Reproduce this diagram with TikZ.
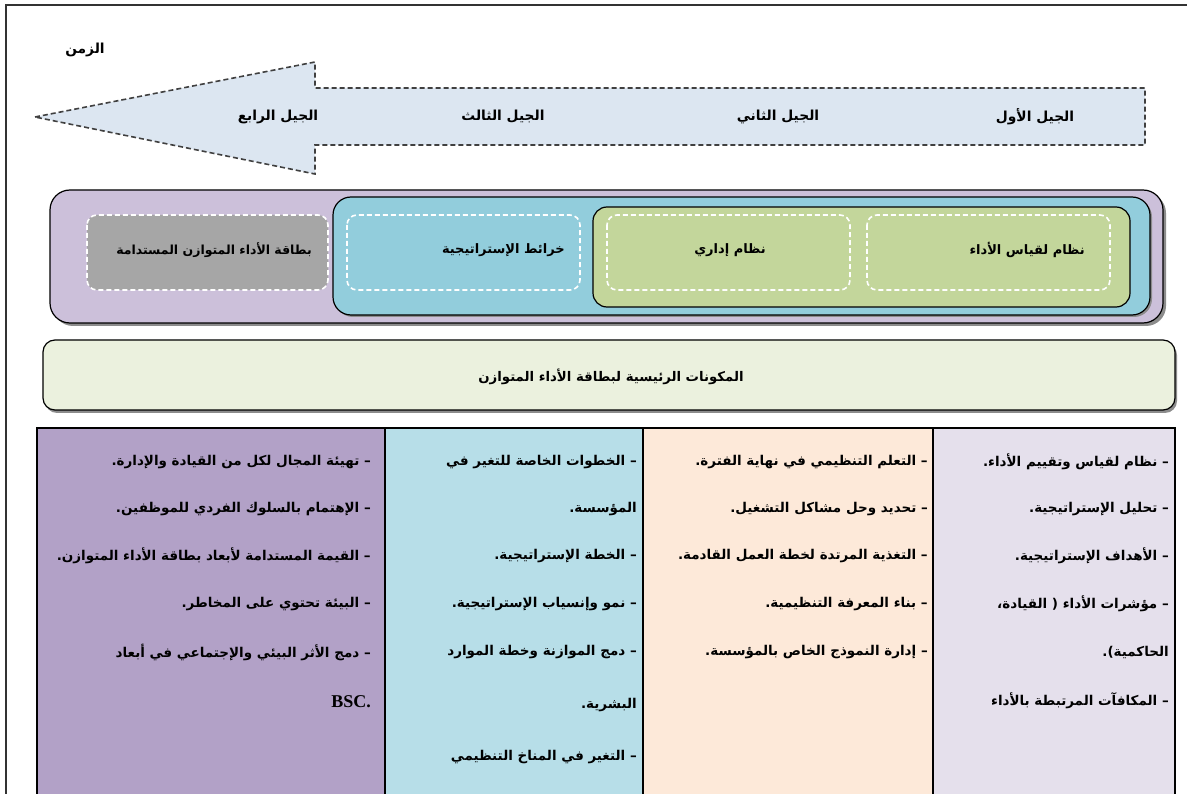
\documentclass[tikz,border=0pt]{standalone}
\usepackage{fontspec}
\setmainfont{Liberation Serif}
\newfontfamily\ar[Script=Arabic]{DejaVu Sans}
\TeXXeTstate=1
\newcommand{\AR}[1]{{\ar\bfseries\beginR #1\endR}}
\definecolor{arrowfill}{RGB}{220,230,241}
\definecolor{lav}{RGB}{204,192,218}
\definecolor{bluebox}{RGB}{146,205,220}
\definecolor{greenbox}{RGB}{195,214,155}
\definecolor{graybox}{RGB}{166,166,166}
\definecolor{compbar}{RGB}{235,241,222}
\definecolor{colA}{RGB}{229,224,236}
\definecolor{colB}{RGB}{253,233,217}
\definecolor{colC}{RGB}{183,222,232}
\definecolor{colD}{RGB}{178,161,199}
\tikzset{
  gen/.style={font=\fontsize{13.8}{16}\selectfont, inner sep=1pt},
  shadowbox/.style={draw=black, line width=1.2pt, rounded corners=#1},
  whitedash/.style={draw=white, line width=1.6pt, dash pattern=on 5pt off 3pt, rounded corners=10pt},
  boxlabel/.style={font=\fontsize{13}{15}\selectfont, inner sep=1pt},
  item/.style={font=\fontsize{13.5}{16}\selectfont, inner sep=1pt, anchor=east},
}
\begin{document}
\begin{tikzpicture}[x=1pt,y=-1pt]
\useasboundingbox (0,0) rectangle (1187,794);
\fill[white] (0,0) rectangle (1187,794);
% outer frame
\draw[line width=1.6pt, black!80] (6,794) -- (6,5) -- (1187,5);
% time label
\node[gen] (time) at (85,50) {\AR{الزمن}};
% big arrow
\draw[fill=arrowfill, draw=black!75, line width=1.6pt, dash pattern=on 5pt off 3pt]
  (35,117) -- (315,62) -- (315,88) -- (1145,88) -- (1145,145) -- (315,145) -- (315,174) -- cycle;
\node[gen] (g4) at (278,117) {\AR{الجيل الرابع}};
\node[gen] (g3) at (503,117) {\AR{الجيل الثالث}};
\node[gen] (g2) at (778,117) {\AR{الجيل الثاني}};
\node[gen] (g1) at (1035,117) {\AR{الجيل الأول}};
% nested boxes
\fill[black!45, rounded corners=20pt] (53,193) rectangle (1166,326);
\draw[shadowbox=20pt, fill=lav] (50,190) rectangle (1163,323);
\fill[black!45, rounded corners=18pt] (335,199) rectangle (1152,317);
\draw[shadowbox=18pt, fill=bluebox] (333,197) rectangle (1150,315);
\draw[shadowbox=14pt, fill=greenbox] (593,207) rectangle (1130,307);
\draw[whitedash, fill=graybox] (87,215) rectangle (328,290);
\draw[whitedash] (347,215) rectangle (580,290);
\draw[whitedash] (607,215) rectangle (850,290);
\draw[whitedash] (867,215) rectangle (1110,290);
\node[boxlabel, anchor=east, font=\fontsize{12.5}{15}\selectfont] (bsc) at (313,250) {\AR{بطاقة الأداء المتوازن المستدامة}};
\node[boxlabel, anchor=east] (smap) at (566,250) {\AR{خرائط الإستراتيجية}};
\node[boxlabel] (adm) at (730,250) {\AR{نظام إداري}};
\node[boxlabel, anchor=east] (meas) at (1086,250) {\AR{نظام لقياس الأداء}};
% components bar
\fill[black!45, rounded corners=12pt] (45,343) rectangle (1177,413);
\draw[shadowbox=12pt, fill=compbar] (43,340) rectangle (1175,410);
\node[boxlabel, font=\fontsize{13.3}{15}\selectfont] (comp) at (611,377) {\AR{المكونات الرئيسية لبطاقة الأداء المتوازن}};
% table
\fill[colD] (37,428) rectangle (385,794);
\fill[colC] (385,428) rectangle (643,794);
\fill[colB] (643,428) rectangle (933,794);
\fill[colA] (933,428) rectangle (1175,794);
\draw[line width=1.4pt] (37,794) -- (37,428) -- (1175,428) -- (1175,794);
\draw[line width=1.4pt] (385,428) -- (385,794);
\draw[line width=1.4pt] (643,428) -- (643,794);
\draw[line width=1.4pt] (933,428) -- (933,794);
% column 1
\node[item] (a1) at (1170,462) {\AR{– نظام لقياس وتقييم الأداء.}};
\node[item] (a2) at (1170,509) {\AR{– تحليل الإستراتيجية.}};
\node[item] (a3) at (1170,556) {\AR{– الأهداف الإستراتيجية.}};
\node[item] (a4) at (1170,604) {\AR{– مؤشرات الأداء ( القيادة،}};
\node[item] (a5) at (1170,652) {\AR{الحاكمية).}};
\node[item] (a6) at (1170,701) {\AR{– المكافآت المرتبطة بالأداء}};
% column 2
\node[item] (b1) at (929,462) {\AR{– التعلم التنظيمي في نهاية الفترة.}};
\node[item] (b2) at (929,509) {\AR{– تحديد وحل مشاكل التشغيل.}};
\node[item] (b3) at (929,556) {\AR{– التغذية المرتدة لخطة العمل القادمة.}};
\node[item] (b4) at (929,604) {\AR{– بناء المعرفة التنظيمية.}};
\node[item] (b5) at (929,652) {\AR{– إدارة النموذج الخاص بالمؤسسة.}};
% column 3
\node[item] (c1) at (638,462) {\AR{– الخطوات الخاصة للتغير في}};
\node[item] (c2) at (638,509) {\AR{المؤسسة.}};
\node[item] (c3) at (638,556) {\AR{– الخطة الإستراتيجية.}};
\node[item] (c4) at (638,604) {\AR{– نمو وإنسياب الإستراتيجية.}};
\node[item] (c5) at (638,652) {\AR{– دمج الموازنة وخطة الموارد}};
\node[item] (c6) at (638,705) {\AR{البشرية.}};
\node[item] (c7) at (638,757) {\AR{– التغير في المناخ التنظيمي}};
% column 4
\node[item] (d1) at (372,462) {\AR{– تهيئة المجال لكل من القيادة والإدارة.}};
\node[item] (d2) at (372,509) {\AR{– الإهتمام بالسلوك الفردي للموظفين.}};
\node[item] (d3) at (372,556) {\AR{– القيمة المستدامة لأبعاد بطاقة الأداء المتوازن.}};
\node[item] (d4) at (372,604) {\AR{– البيئة تحتوي على المخاطر.}};
\node[item] (d5) at (372,652) {\AR{– دمج الأثر البيئي والإجتماعي في أبعاد}};
\node[item, font=\fontsize{18}{20}\selectfont\bfseries] (d6) at (372,702) {BSC.};
\end{tikzpicture}
\end{document}
